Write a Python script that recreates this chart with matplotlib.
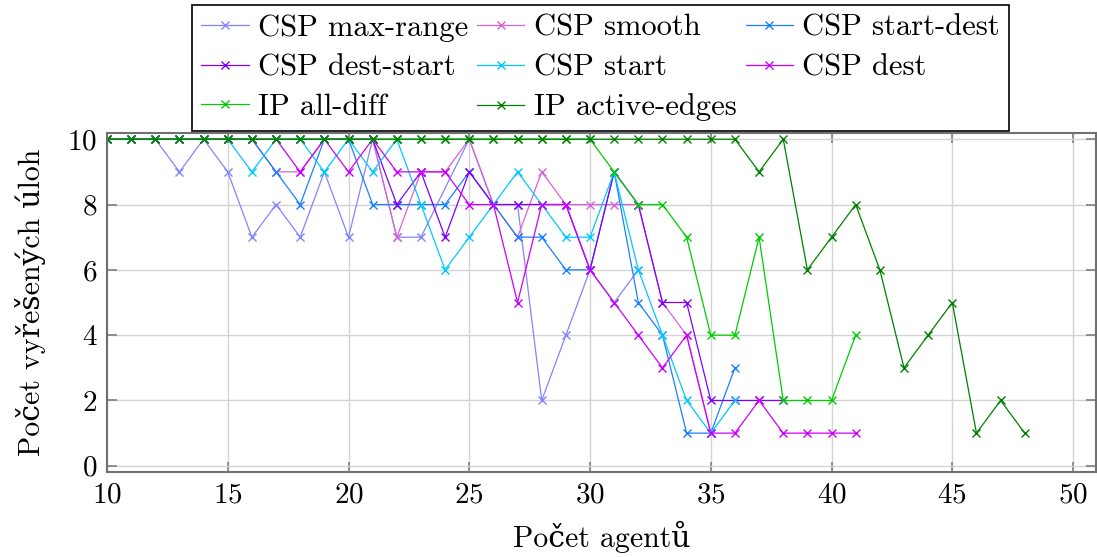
import matplotlib
matplotlib.use("Agg")
import matplotlib.pyplot as plt

plt.rcParams['font.family'] = ['cmr10', 'DejaVu Serif']
plt.rcParams['axes.formatter.use_mathtext'] = True

# ---- data ----
x_max_range = [10, 11, 12, 13, 14, 15, 16, 17, 18, 19, 20, 21, 22, 23, 25, 26, 27, 28, 29, 30, 31, 32]
y_max_range = [10, 10, 10, 9, 10, 9, 7, 8, 7, 9, 7, 10, 7, 7, 10, 8, 8, 2, 4, 6, 5, 6]

x_smooth = list(range(10, 36))
y_smooth = [10, 10, 10, 10, 10, 10, 10, 9, 9, 10, 10, 10, 7, 9, 9, 10, 8, 7, 9, 8, 8, 8, 8, 5, 4, 1]

x_start_dest = list(range(10, 37))
y_start_dest = [10, 10, 10, 10, 10, 10, 10, 9, 8, 10, 10, 8, 8, 8, 8, 9, 8, 7, 7, 6, 6, 9, 5, 4, 1, 1, 3]

x_dest_start = list(range(10, 39))
y_dest_start = [10, 10, 10, 10, 10, 10, 10, 10, 10, 10, 10, 10, 8, 9, 7, 9, 8, 8, 8, 8, 6, 9, 8, 5, 5, 2, 2, 2, 2]

x_start = list(range(10, 37))
y_start = [10, 10, 10, 10, 10, 10, 9, 10, 10, 9, 10, 9, 10, 8, 6, 7, 8, 9, 8, 7, 7, 9, 6, 4, 2, 1, 2]

x_dest = list(range(10, 42))
y_dest = [10, 10, 10, 10, 10, 10, 10, 10, 9, 10, 9, 10, 9, 9, 9, 8, 8, 5, 8, 8, 6, 5, 4, 3, 4, 1, 1, 2, 1, 1, 1, 1]

x_all_diff = list(range(10, 42))
y_all_diff = [10] * 21 + [9, 8, 8, 7, 4, 4, 7, 2, 2, 2, 4]

x_active_edges = list(range(10, 49))
y_active_edges = [10] * 27 + [9, 10, 6, 7, 8, 6, 3, 4, 5, 1, 2, 1]

series = [
    ("CSP max-range", x_max_range, y_max_range, "#8484ff"),
    ("CSP smooth", x_smooth, y_smooth, "#d863d8"),
    ("CSP start-dest", x_start_dest, y_start_dest, "#1a80ff"),
    ("CSP dest-start", x_dest_start, y_dest_start, "#8000ff"),
    ("CSP start", x_start, y_start, "#00c8ff"),
    ("CSP dest", x_dest, y_dest, "#cc00ff"),
    ("IP all-diff", x_all_diff, y_all_diff, "#00cc00"),
    ("IP active-edges", x_active_edges, y_active_edges, "#008000"),
]

x_ticks = [10, 15, 20, 25, 30, 35, 40, 45, 50]
y_ticks = [0, 2, 4, 6, 8, 10]

fig = plt.figure(figsize=(10.97, 5.57), dpi=100)
ax = fig.add_axes([107 / 1097, 1 - 472 / 557, (1096 - 107) / 1097, (472 - 133) / 557])

handles = []
for label, xs, ys, col in series:
    h, = ax.plot(xs, ys, color=col, lw=0.9, marker='x', ms=6, mew=1.0, label=label)
    handles.append(h)

ax.set_xlim(10, 50.95)
ax.set_ylim(-0.19, 10.19)
ax.set_xticks(x_ticks)
ax.set_yticks(y_ticks)
ax.grid(True, color='#d3d3d3', lw=1.0)
ax.set_axisbelow(True)
for sp in ax.spines.values():
    sp.set_color('#707070')
    sp.set_linewidth(1.5)
ax.tick_params(direction='in', length=7, width=1.2, color='#808080',
               top=True, right=True, labelsize=21, pad=7)
ax.set_xlabel("Počet agentů", fontsize=21.5, labelpad=9)
ax.set_ylabel("Počet vyřešených úloh", fontsize=21.5, labelpad=15)

# row-wise ordering for a 3-column legend (matplotlib fills column by column)
order = [0, 3, 6, 1, 4, 7, 2, 5]
leg = fig.legend(handles=[handles[i] for i in order], loc='upper left', ncol=3,
                 bbox_to_anchor=(192 / 1097, 1 - 5 / 557), fontsize=22,
                 frameon=True, fancybox=False, framealpha=1, edgecolor='black',
                 borderaxespad=0, borderpad=0.3, columnspacing=0.3,
                 handlelength=1.55, handletextpad=0.3, labelspacing=0.4)
leg.get_frame().set_linewidth(1.2)

fig.savefig("out.png", dpi=100)
